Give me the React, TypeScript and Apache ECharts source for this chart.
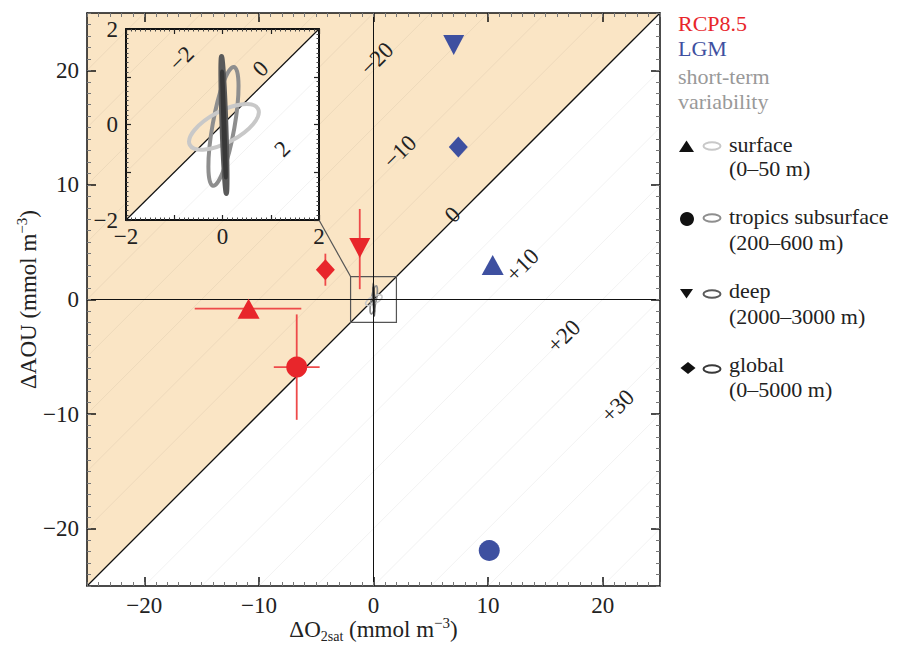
import React, { useEffect, useRef } from 'react';
import * as echarts from 'echarts';

const FONT = 'Liberation Serif, Times New Roman, serif';
const RED = '#E8262B';
const ERR_RED = '#EE4A4A';
const BLUE = '#3E50A0';
const ORANGE = '#FAE5C5';

// axis ranges / ticks
const mainRange = [-25, 25];
const mainMajorTicks = [-20, -10, 0, 10, 20];
const insetRange = [-2, 2];
const insetLabelTicks = [-2, 0, 2];
const zoomBox = [-2, 2];

// categories
const groups = ['surface', 'tropics subsurface', 'deep', 'global'];
const groupDepths = ['(0–50 m)', '(200–600 m)', '(2000–3000 m)', '(0–5000 m)'];

// RCP8.5 values
const rcpX = [-10.9, -6.7, -1.2, -4.2];
const rcpY = [-0.8, -5.9, 4.5, 2.6];
const rcpXErrLow = [-15.6, -8.7, null, null];
const rcpXErrHigh = [-6.3, -4.7, null, null];
const rcpYErrLow = [null, -10.5, 0.9, 1.2];
const rcpYErrHigh = [null, -1.3, 7.9, 4.0];

// LGM values
const lgmX = [10.4, 10.1, 7.0, 7.4];
const lgmY = [3.0, -21.9, 22.2, 13.3];

// short-term variability ellipses (centre, semi-axes, angle in degrees)
const varCx = [0.03, 0.02, 0.03, 0.03];
const varCy = [-0.05, -0.04, -0.01, 0.0];
const varA = [0.8, 1.25, 1.42, 1.1];
const varB = [0.33, 0.23, 0.04, 0.01];
const varAngle = [28, 80, 92, 92];

// contour lines (ΔO2sat − ΔAOU)
const mainFaintLevels = [-45, -40, -35, -30, -25, -20, -15, -10, -5, 5, 10, 15, 20, 25, 30, 35, 40, 45];
const insetFaintLevels = [-3, -2, -1, 1, 2, 3];
const contourLabelText = ['−20', '−10', '0', '+10', '+20', '+30'];
const contourLabelX = [0.3, 2.3, 6.9, 13.0, 16.6, 21.3];
const contourLabelY = [21.0, 12.9, 7.4, 3.0, -3.2, -9.3];
const insetLabelText = ['−2', '0', '2'];
const insetLabelX = [-0.85, 0.79, 1.24];
const insetLabelY = [1.38, 1.17, -0.51];

// styles
const groupSymbol = ['triangle', 'circle', 'triangle', 'diamond'];
const groupSymbolRotate = [0, 0, 180, 0];
const groupSymbolSize: any[] = [[22, 20], [21, 21], [21, 20], [19, 21]];
const varColors = ['#c8c8c8', '#8e8e8e', '#5a5a5a', '#383838'];
const varMainWidth = [1.6, 1.6, 2, 2];
const varInsetWidth = [4, 4, 5, 4];
const varDrawOrder = [1, 0, 2, 3];

const fmt = (v: number) => (v < 0 ? '−' + Math.abs(v) : String(v));

function segment(c: number, lo: number, hi: number) {
  if (c >= 0) return [[lo + c, lo], [hi, hi - c]];
  return [[lo, lo - c], [hi + c, hi]];
}

function majorAxis(position: string, gridIndex: number, showLabels: boolean, extra: any = {}) {
  return {
    type: 'value', gridIndex, position, min: mainRange[0], max: mainRange[1], interval: 5,
    axisLine: { show: true, onZero: false, lineStyle: { color: '#111', width: 1.5 } },
    axisTick: { show: true, inside: true, length: 9, customValues: mainMajorTicks, lineStyle: { color: '#111', width: 1.5 } },
    axisLabel: { show: showLabels, customValues: mainMajorTicks, formatter: fmt, fontFamily: FONT, fontSize: 23, color: '#222', margin: 8 },
    splitLine: { show: false }, z: 10, ...extra,
  };
}
function minorAxis(position: string, gridIndex: number) {
  return {
    type: 'value', gridIndex, position, min: mainRange[0], max: mainRange[1], interval: 1,
    axisLine: { show: false, onZero: false },
    axisTick: { show: true, inside: true, length: 4, lineStyle: { color: '#777', width: 1 } },
    axisLabel: { show: false }, splitLine: { show: false }, z: 10,
  };
}
function insetAxis(position: string, showLabels: boolean, margin: number) {
  return {
    type: 'value', gridIndex: 1, position, min: insetRange[0], max: insetRange[1], interval: 1,
    axisLine: { show: true, onZero: false, lineStyle: { color: '#111', width: 2 } },
    axisTick: { show: true, inside: true, length: 5, lineStyle: { color: '#222', width: 1.2 } },
    minorTick: { show: true, splitNumber: 10, length: 2.5, lineStyle: { color: '#444', width: 1 } },
    axisLabel: { show: showLabels, customValues: insetLabelTicks, formatter: fmt, fontFamily: FONT, fontSize: 23, color: '#222', margin },
    splitLine: { show: false }, z: 10,
  };
}

const richName = {
  a: { fontFamily: FONT, fontSize: 23, color: '#222', lineHeight: 28, verticalAlign: 'middle' },
  sup: { fontFamily: FONT, fontSize: 15, color: '#222', lineHeight: 13, verticalAlign: 'top' },
  sub: { fontFamily: FONT, fontSize: 14, color: '#222', lineHeight: 12, verticalAlign: 'bottom' },
};

function textEl(x: number, y: number, text: string, size: number, rotation = 0) {
  return {
    type: 'text', x, y, rotation,
    style: {
      text, x: 0, y: 0, fill: '#222', fontFamily: FONT, fontSize: size,
      align: 'center', verticalAlign: 'middle', textAlign: 'center', textVerticalAlign: 'middle',
    },
  };
}

function ellipseSeries(xi: number, yi: number, widths: number[], z: number) {
  return {
    type: 'custom', xAxisIndex: xi, yAxisIndex: yi, z, silent: true,
    data: varDrawOrder.map((k) => [varCx[k], varCy[k]]),
    renderItem: (params: any, api: any) => {
      const k = varDrawOrder[params.dataIndex];
      const c = api.coord([varCx[k], varCy[k]]);
      const rx = api.size([varA[k], 0])[0];
      const ry = api.size([0, varB[k]])[1];
      return {
        type: 'ellipse', x: c[0], y: c[1], rotation: (varAngle[k] * Math.PI) / 180,
        shape: { cx: 0, cy: 0, rx, ry },
        style: { fill: 'none', stroke: varColors[k], lineWidth: widths[k] },
      };
    },
  };
}

function buildOption() {
  const lo = mainRange[0], hi = mainRange[1];
  const ilo = insetRange[0], ihi = insetRange[1];
  const series: any[] = [
    {
      name: 'bgMain', type: 'custom', xAxisIndex: 0, yAxisIndex: 0, z: 1, silent: true, data: [[0, 0]],
      renderItem: (_p: any, api: any) => ({
        type: 'polygon', shape: { points: [[lo, lo], [lo, hi], [hi, hi]].map((d) => api.coord(d)) },
        style: { fill: ORANGE },
      }),
    },
    {
      name: 'faintMain', type: 'custom', xAxisIndex: 0, yAxisIndex: 0, z: 2, silent: true,
      data: mainFaintLevels.map((c) => [c, 0]),
      renderItem: (params: any, api: any) => {
        const s = segment(mainFaintLevels[params.dataIndex], lo, hi).map((d) => api.coord(d));
        return { type: 'line', shape: { x1: s[0][0], y1: s[0][1], x2: s[1][0], y2: s[1][1] }, style: { stroke: 'rgba(0,0,0,0.055)', lineWidth: 1 } };
      },
    },
    {
      name: 'diagMain', type: 'line', xAxisIndex: 0, yAxisIndex: 0, z: 3, silent: true, symbol: 'none',
      data: [[lo, lo], [hi, hi]], lineStyle: { color: '#111', width: 1.3 },
      markLine: {
        silent: true, symbol: 'none', label: { show: false },
        lineStyle: { color: '#111', width: 1, type: 'solid' },
        data: [{ xAxis: 0 }, { yAxis: 0 }],
      },
    },
    {
      name: 'contourLabels', type: 'custom', xAxisIndex: 0, yAxisIndex: 0, z: 4, silent: true,
      data: contourLabelX.map((x, i) => [x, contourLabelY[i]]),
      renderItem: (params: any, api: any) => {
        const i = params.dataIndex;
        const p = api.coord([contourLabelX[i], contourLabelY[i]]);
        return textEl(p[0], p[1], contourLabelText[i], 23, Math.PI / 4);
      },
    },
    {
      name: 'zoomBox', type: 'custom', xAxisIndex: 0, yAxisIndex: 0, z: 4, silent: true, data: [[0, 0]],
      renderItem: (_p: any, api: any) => {
        const a = api.coord([zoomBox[0], zoomBox[1]]);
        const s = api.size([zoomBox[1] - zoomBox[0], zoomBox[1] - zoomBox[0]]);
        return { type: 'rect', shape: { x: a[0], y: a[1], width: s[0], height: s[1] }, style: { fill: 'none', stroke: '#555', lineWidth: 1.2 } };
      },
    },
    ellipseSeries(0, 0, varMainWidth, 4),
    {
      name: 'errBars', type: 'custom', xAxisIndex: 0, yAxisIndex: 0, z: 4, silent: true,
      data: rcpX.map((x, i) => [x, rcpY[i]]),
      renderItem: (params: any, api: any) => {
        const i = params.dataIndex;
        const children: any[] = [];
        const st = { stroke: ERR_RED, lineWidth: 1.8 };
        if (rcpXErrLow[i] != null) {
          const a = api.coord([rcpXErrLow[i], rcpY[i]]);
          const b = api.coord([rcpXErrHigh[i], rcpY[i]]);
          children.push({ type: 'line', shape: { x1: a[0], y1: a[1], x2: b[0], y2: b[1] }, style: st });
        }
        if (rcpYErrLow[i] != null) {
          const a = api.coord([rcpX[i], rcpYErrLow[i]]);
          const b = api.coord([rcpX[i], rcpYErrHigh[i]]);
          children.push({ type: 'line', shape: { x1: a[0], y1: a[1], x2: b[0], y2: b[1] }, style: st });
        }
        return { type: 'group', children };
      },
    },
    {
      name: 'RCP8.5', type: 'scatter', xAxisIndex: 0, yAxisIndex: 0, z: 5,
      itemStyle: { color: RED, opacity: 1 },
      data: rcpX.map((x, i) => ({ name: groups[i], value: [x, rcpY[i]], symbol: groupSymbol[i], symbolSize: groupSymbolSize[i], symbolRotate: groupSymbolRotate[i] })),
    },
    {
      name: 'LGM', type: 'scatter', xAxisIndex: 0, yAxisIndex: 0, z: 5,
      itemStyle: { color: BLUE, opacity: 1 },
      data: lgmX.map((x, i) => ({ name: groups[i], value: [x, lgmY[i]], symbol: groupSymbol[i], symbolSize: groupSymbolSize[i], symbolRotate: groupSymbolRotate[i] })),
    },
    // inset
    {
      name: 'bgInset', type: 'custom', xAxisIndex: 4, yAxisIndex: 4, z: 6, silent: true, data: [[0, 0]],
      renderItem: (_p: any, api: any) => {
        const tl = api.coord([ilo, ihi]);
        const s = api.size([ihi - ilo, ihi - ilo]);
        return {
          type: 'group', children: [
            { type: 'rect', shape: { x: tl[0], y: tl[1], width: s[0], height: s[1] }, style: { fill: '#ffffff' } },
            { type: 'polygon', shape: { points: [[ilo, ilo], [ilo, ihi], [ihi, ihi]].map((d) => api.coord(d)) }, style: { fill: ORANGE } },
          ],
        };
      },
    },
    {
      name: 'faintInset', type: 'custom', xAxisIndex: 4, yAxisIndex: 4, z: 7, silent: true,
      data: insetFaintLevels.map((c) => [c, 0]),
      renderItem: (params: any, api: any) => {
        const s = segment(insetFaintLevels[params.dataIndex], ilo, ihi).map((d) => api.coord(d));
        return { type: 'line', shape: { x1: s[0][0], y1: s[0][1], x2: s[1][0], y2: s[1][1] }, style: { stroke: 'rgba(0,0,0,0.055)', lineWidth: 1 } };
      },
    },
    {
      name: 'diagInset', type: 'line', xAxisIndex: 4, yAxisIndex: 4, z: 7, silent: true, symbol: 'none',
      data: [[ilo, ilo], [ihi, ihi]], lineStyle: { color: '#111', width: 1.2 },
      markLine: {
        silent: true, symbol: 'none', label: { show: false },
        lineStyle: { color: 'rgba(0,0,0,0.07)', width: 1, type: 'solid' },
        data: [{ xAxis: 0 }, { yAxis: 0 }],
      },
    },
    {
      name: 'insetLabels', type: 'custom', xAxisIndex: 4, yAxisIndex: 4, z: 7, silent: true,
      data: insetLabelX.map((x, i) => [x, insetLabelY[i]]),
      renderItem: (params: any, api: any) => {
        const i = params.dataIndex;
        const p = api.coord([insetLabelX[i], insetLabelY[i]]);
        return textEl(p[0], p[1], insetLabelText[i], 23, Math.PI / 4);
      },
    },
    ellipseSeries(4, 4, varInsetWidth, 8),
  ];

  return {
    animation: false,
    backgroundColor: '#ffffff',
    grid: [
      { left: 87, top: 13, width: 573, height: 573, outerBoundsMode: 'none', containLabel: false },
      { left: 126, top: 29, width: 193, height: 191, outerBoundsMode: 'none', containLabel: false },
    ],
    xAxis: [
      majorAxis('bottom', 0, true, {
        name: '{a|ΔO}{sub|2sat}{a| (mmol m}{sup|−3}{a|)}', nameLocation: 'middle', nameGap: 29,
        nameMoveOverlap: false,
        nameTextStyle: { rich: richName },
      }),
      minorAxis('bottom', 0),
      majorAxis('top', 0, false),
      minorAxis('top', 0),
      insetAxis('bottom', true, 5),
      insetAxis('top', false, 5),
    ],
    yAxis: [
      majorAxis('left', 0, true, {
        name: '{a|ΔAOU (mmol m}{sup|−3}{a|)}', nameLocation: 'middle', nameGap: 45, nameRotate: 90,
        nameMoveOverlap: false,
        nameTextStyle: { rich: richName },
      }),
      minorAxis('left', 0),
      majorAxis('right', 0, false),
      minorAxis('right', 0),
      insetAxis('left', true, 8),
      insetAxis('right', false, 8),
    ],
    series,
  };
}

function legendText(x: number, y: number, text: string, color: string) {
  return {
    type: 'text', x, y, z: 20,
    style: {
      text, fill: color, fontFamily: FONT, fontSize: 22, lineHeight: 20,
      align: 'left', verticalAlign: 'middle', textAlign: 'left', textVerticalAlign: 'middle',
    },
  };
}

function legendElements() {
  const els: any[] = [];
  els.push(legendText(678, 23, 'RCP8.5', RED));
  els.push(legendText(678, 48, 'LGM', BLUE));
  els.push(legendText(678, 76, 'short-term', '#999'));
  els.push(legendText(678, 101, 'variability', '#999'));
  const rowY = [[144, 168], [216, 242], [290, 316], [364, 389]];
  const ellY = [146, 218, 294, 369];
  groups.forEach((g, i) => {
    els.push(legendText(729, rowY[i][0], g, '#222'));
    els.push(legendText(729, rowY[i][1], groupDepths[i], '#222'));
    els.push({
      type: 'ellipse', z: 20, shape: { cx: 712, cy: ellY[i], rx: 8.5, ry: 3.8 },
      style: { fill: 'none', stroke: varColors[i], lineWidth: 2 },
    });
  });
  const black = { fill: '#111' };
  els.push({ type: 'polygon', z: 20, shape: { points: [[686.5, 140.5], [694, 152], [679, 152]] }, style: black });
  els.push({ type: 'circle', z: 20, shape: { cx: 687, cy: 219, r: 7 }, style: black });
  els.push({ type: 'polygon', z: 20, shape: { points: [[680, 289], [693, 289], [686.5, 298.5]] }, style: black });
  els.push({ type: 'polygon', z: 20, shape: { points: [[688, 362], [695.5, 368], [688, 374], [680.5, 368]] }, style: black });
  return els;
}

export default function App() {
  const ref = useRef<HTMLDivElement>(null);
  useEffect(() => {
    const chart = echarts.init(ref.current!, null, { renderer: 'svg' });
    const option: any = buildOption();
    chart.setOption(option);
    const insetIdx = option.series.findIndex((s: any) => s.name === 'bgInset');
    const a = chart.convertToPixel({ seriesIndex: insetIdx }, [insetRange[1], insetRange[0]]) as number[];
    const b = chart.convertToPixel({ seriesIndex: 0 }, [zoomBox[0], zoomBox[1]]) as number[];
    chart.setOption({
      graphic: [
        ...legendElements(),
        { type: 'line', z: 20, shape: { x1: a[0], y1: a[1], x2: b[0], y2: b[1] }, style: { stroke: '#555', lineWidth: 1.2 } },
      ],
    });
    return () => chart.dispose();
  }, []);
  return <div ref={ref} style={{ position: 'fixed', left: 0, top: 0, width: 903, height: 647, background: '#fff' }} />;
}
